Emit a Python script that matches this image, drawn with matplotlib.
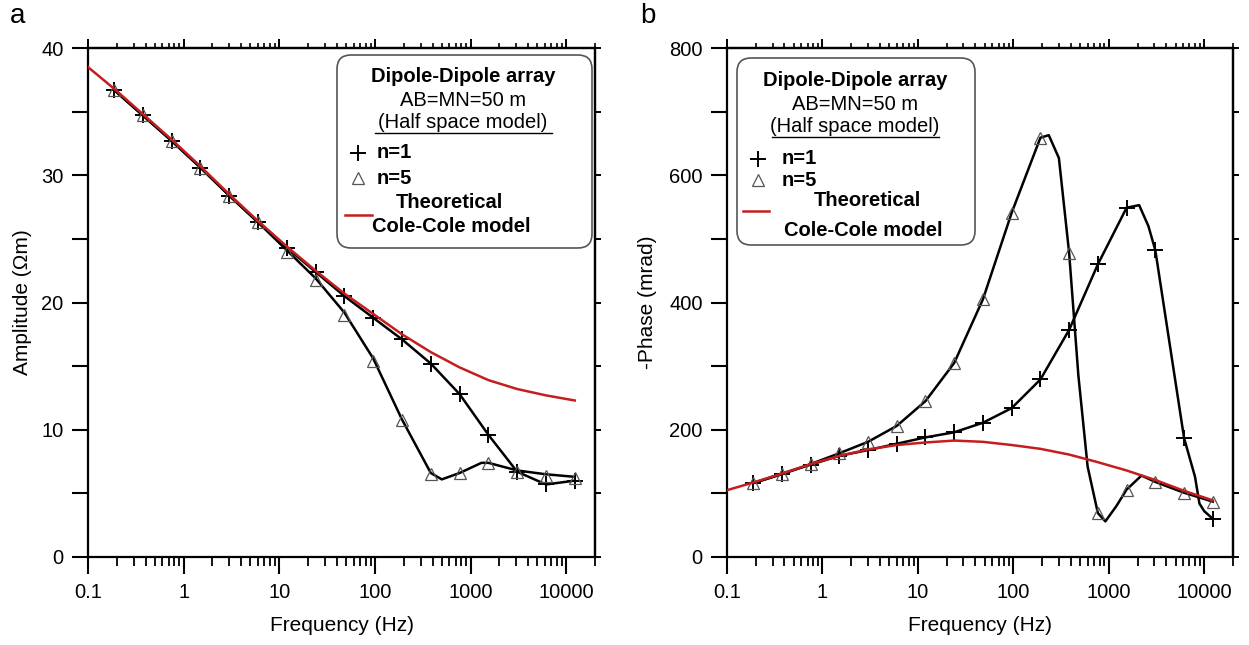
import numpy as np
import matplotlib
matplotlib.use('Agg')
import matplotlib.pyplot as plt
from matplotlib.ticker import LogLocator, MultipleLocator, FuncFormatter, NullFormatter
from matplotlib.patches import FancyBboxPatch
from matplotlib.lines import Line2D
from matplotlib.transforms import IdentityTransform

plt.rcParams['font.family'] = ['Liberation Sans', 'DejaVu Sans']

W, H = 1249, 645

# measurement frequencies (Hz)
freq = [0.1875, 0.375, 0.75, 1.5, 3, 6, 12, 24, 48, 96, 192, 384, 768, 1536, 3072, 6144, 12288]

# amplitude (Ohm m)
amp_n1 = [36.7, 34.7, 32.7, 30.6, 28.4, 26.3, 24.3, 22.4, 20.5, 18.8, 17.1, 15.2, 12.8, 9.6, 6.7, 5.7, 6.0]
amp_n5 = [36.7, 34.7, 32.7, 30.6, 28.4, 26.3, 24.0, 21.8, 19.0, 15.4, 10.8, 6.5, 6.6, 7.4, 6.7, 6.4, 6.2]

# -phase (mrad)
pha_n1 = [116, 131, 145, 159, 168, 178, 188, 196, 211, 234, 279, 357, 460, 549, 482, 187, 60]
pha_n5 = [116, 130, 146, 163, 181, 206, 245, 305, 405, 541, 659, 478, 69, 106, 118, 101, 87]

# fitted black curves
amp_n5_line_f = [0.1875, 0.375, 0.75, 1.5, 3, 6, 12, 24, 48, 96, 192, 384, 500, 768, 1300, 1536, 3072, 6144, 12288]
amp_n5_line = [36.7, 34.7, 32.7, 30.6, 28.4, 26.3, 24.1, 21.9, 19.2, 15.6, 10.8, 6.6, 6.1, 6.6, 7.4, 7.4, 6.8, 6.5, 6.3]

amp_n1_line_f = freq
amp_n1_line = amp_n1

pha_n1_line_f = [0.1875, 0.375, 0.75, 1.5, 3, 6, 12, 24, 48, 96, 192, 384, 768, 1536, 2080, 2600,
                 3072, 6144, 8000, 8900, 10000, 12288]
pha_n1_line = [116, 131, 145, 159, 168, 178, 188, 196, 211, 234, 279, 357, 460, 549, 553, 520,
               482, 187, 126, 84, 72, 60]

pha_n5_line_f = [0.1875, 0.375, 0.75, 1.5, 3, 6, 12, 24, 48, 96, 192, 235, 300, 384, 480, 600,
                 768, 920, 1200, 1536, 2200, 3072, 6144, 12288]
pha_n5_line = [116, 130, 146, 163, 181, 206, 245, 305, 405, 541, 659, 663, 627, 478, 285, 142,
               69, 56, 80, 106, 128, 118, 101, 87]

# theoretical Cole-Cole model
theo_f = [0.1, 0.1875, 0.375, 0.75, 1.5, 3, 6, 12, 24, 48, 96, 192, 384, 768, 1536, 3072, 6144, 12288]
theo_amp = [38.5, 36.8, 34.8, 32.8, 30.7, 28.5, 26.4, 24.4, 22.5, 20.7, 19.1, 17.5, 16.1, 14.9, 13.9, 13.2, 12.7, 12.3]
theo_pha = [105, 117, 131, 146, 159, 169, 176, 180, 183, 181, 176, 170, 161, 149, 136, 121, 104, 89]

RED = '#c41e1e'
FS_TICK = 14.5
FS_LAB = 15
FS_LEG = 14.5

fig = plt.figure(figsize=(W / 100, H / 100), dpi=100)
ax1 = fig.add_axes([88 / W, 1 - 557 / H, (595 - 88) / W, (557 - 48) / H])
ax2 = fig.add_axes([727 / W, 1 - 557 / H, (1233 - 727) / W, (557 - 48) / H])


def style_axes(ax, ymax, ymajor, yminor):
    ax.set_xscale('log')
    ax.set_xlim(0.1, 20000)
    ax.set_ylim(0, ymax)
    ax.xaxis.set_major_locator(LogLocator(base=10, numticks=20))
    ax.xaxis.set_minor_locator(LogLocator(base=10, subs=np.arange(2, 10), numticks=20))
    ax.xaxis.set_major_formatter(FuncFormatter(lambda v, p: f'{v:g}'))
    ax.xaxis.set_minor_formatter(NullFormatter())
    ax.yaxis.set_major_locator(MultipleLocator(ymajor))
    ax.yaxis.set_minor_locator(MultipleLocator(yminor))
    ax.tick_params(axis='x', which='major', direction='out', length=12, width=1.5,
                   labelsize=FS_TICK, pad=7)
    ax.tick_params(axis='x', which='minor', direction='out', length=6.5, width=1.3)
    ax.tick_params(axis='y', which='both', direction='out', length=11.5, width=1.5,
                   labelsize=FS_TICK, pad=6)
    for s in ax.spines.values():
        s.set_linewidth(1.6)

    top = ax.secondary_xaxis('top')
    top.xaxis.set_major_locator(LogLocator(base=10, numticks=20))
    top.xaxis.set_minor_locator(LogLocator(base=10, subs=np.arange(2, 10), numticks=20))
    top.xaxis.set_major_formatter(NullFormatter())
    top.xaxis.set_minor_formatter(NullFormatter())
    top.tick_params(which='major', direction='out', length=6.5, width=1.4)
    top.tick_params(which='minor', direction='out', length=3.5, width=1.2)
    top.spines['top'].set_linewidth(1.6)

    right = ax.secondary_yaxis('right')
    right.yaxis.set_major_locator(MultipleLocator(yminor))
    right.yaxis.set_major_formatter(NullFormatter())
    right.tick_params(which='major', direction='out', length=4, width=1.4)
    right.spines['right'].set_linewidth(1.6)

    ax.set_xlabel('Frequency (Hz)', fontsize=FS_LAB, labelpad=10)


def draw_data(ax, n1, n5, l1f, l1, l5f, l5, theo):
    ax.plot(l1f, l1, color='black', lw=1.8, zorder=2)
    ax.plot(l5f, l5, color='black', lw=1.8, zorder=2)
    ax.plot(freq, n1, ls='none', marker='+', ms=11, mew=1.4, color='black', zorder=3)
    ax.plot(freq, n5, ls='none', marker='^', ms=9, mfc='none', mec='#555555', mew=0.9, zorder=3)
    ax.plot(theo_f, theo, color=RED, lw=1.8, zorder=4)


def P(x, y):
    return (x, H - y)


def legend_box(x0, y0, w, h, off):
    tr = IdentityTransform()
    box = FancyBboxPatch(P(x0, y0 + h), w, h, boxstyle='round,pad=0,rounding_size=14',
                         transform=tr, facecolor='white', edgecolor='#555555', lw=1.2, zorder=5)
    fig.patches.append(box)
    cx = x0 + off['cx']
    fig.text(*P(cx, y0 + off['t1']), 'Dipole-Dipole array', transform=tr, ha='center', va='center',
             fontsize=FS_LEG, fontweight='bold', zorder=6)
    fig.text(*P(cx, y0 + off['t2']), 'AB=MN=50 m', transform=tr, ha='center', va='center',
             fontsize=FS_LEG, zorder=6)
    fig.text(*P(cx, y0 + off['t3']), '(Half space model)', transform=tr, ha='center', va='center',
             fontsize=FS_LEG, zorder=6)
    u0, u1 = off['ul']
    fig.lines.append(Line2D([x0 + u0, x0 + u1], [H - (y0 + off['uy'])] * 2, transform=tr,
                            color='black', lw=1.0, zorder=6))
    mx = x0 + off['mx']
    fig.lines.append(Line2D([mx], [H - (y0 + off['m1'])], transform=tr, ls='none', marker='+',
                            ms=11, mew=1.4, color='black', zorder=6))
    fig.lines.append(Line2D([mx], [H - (y0 + off['m2'])], transform=tr, ls='none', marker='^',
                            ms=9, mfc='none', mec='#555555', mew=0.9, zorder=6))
    fig.text(*P(x0 + off['nx'], y0 + off['m1']), 'n=1', transform=tr, ha='left', va='center',
             fontsize=FS_LEG, fontweight='bold', zorder=6)
    fig.text(*P(x0 + off['nx'], y0 + off['m2']), 'n=5', transform=tr, ha='left', va='center',
             fontsize=FS_LEG, fontweight='bold', zorder=6)
    r0, r1 = off['rl']
    fig.lines.append(Line2D([x0 + r0, x0 + r1], [H - (y0 + off['ry'])] * 2, transform=tr,
                            color=RED, lw=1.8, zorder=6))
    fig.text(*P(x0 + off['th'][0], y0 + off['th'][1]), 'Theoretical', transform=tr, ha='center',
             va='center', fontsize=FS_LEG, fontweight='bold', zorder=6)
    fig.text(*P(x0 + off['cc'][0], y0 + off['cc'][1]), 'Cole-Cole model', transform=tr, ha='center',
             va='center', fontsize=FS_LEG, fontweight='bold', zorder=6)


style_axes(ax1, 40, 10, 5)
style_axes(ax2, 800, 200, 100)
ax1.set_ylabel('Amplitude (\u03a9m)', fontsize=FS_LAB, labelpad=7)
ax2.set_ylabel('-Phase (mrad)', fontsize=FS_LAB, labelpad=9)

draw_data(ax1, amp_n1, amp_n5, amp_n1_line_f, amp_n1_line, amp_n5_line_f, amp_n5_line, theo_amp)
draw_data(ax2, pha_n1, pha_n5, pha_n1_line_f, pha_n1_line, pha_n5_line_f, pha_n5_line, theo_pha)

legend_box(337, 55, 255, 193, dict(cx=126, t1=21, t2=45, t3=68, uy=78, ul=(38, 215), mx=21,
                                   m1=98, m2=123, nx=40, rl=(8, 35), ry=160,
                                   th=(112, 148), cc=(114, 172)))
legend_box(737, 58, 238, 187, dict(cx=118, t1=22, t2=46, t3=69, uy=79, ul=(35, 202), mx=21,
                                   m1=101, m2=122, nx=45, rl=(6, 32), ry=153,
                                   th=(130, 142), cc=(126, 172)))

fig.text(10 / W, 1 - 16 / H, 'a', fontsize=20, ha='left', va='center')
fig.text(640 / W, 1 - 16 / H, 'b', fontsize=20, ha='left', va='center')

fig.savefig('out.png', dpi=100)
